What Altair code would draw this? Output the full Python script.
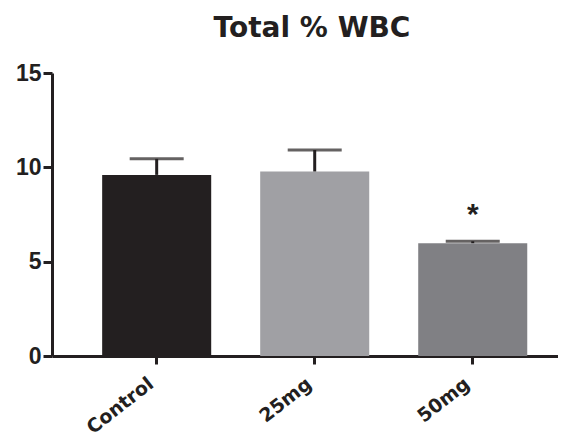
import altair as alt
import pandas as pd

groups = ["Control", "25mg", "50mg"]
means = [9.6, 9.78, 5.98]
sems = [0.85, 1.14, 0.1]
colors = ["#231f20", "#a0a0a4", "#808084"]
star_group = ["50mg"]
star_y = [7.45]

df = pd.DataFrame({"group": groups, "mean": means, "sem": sems})
df["upper"] = df["mean"] + df["sem"]
star_df = pd.DataFrame({"group": star_group, "y": star_y, "label": ["*"]})

FONT = "Liberation Sans"
WIDE = "DejaVu Sans"

x = alt.X("group:N", sort=groups, title=None,
          scale=alt.Scale(paddingInner=0.31, paddingOuter=0.256, align=0.62),
          axis=alt.Axis(labelAngle=322, labelFont=WIDE, labelFontSize=19,
                        labelFontWeight="bold", labelColor="#231f20",
                        domainColor="#231f20", domainWidth=3,
                        tickColor="#231f20", tickWidth=3, tickSize=8,
                        labelPadding=10, labelOffset=-11))

y_scale = alt.Scale(domain=[0, 15], nice=False)

bars = alt.Chart(df).mark_bar().encode(
    x=x,
    y=alt.Y("mean:Q", scale=y_scale, title=None,
            axis=alt.Axis(values=[0, 5, 10, 15], labelFont=FONT, labelFontSize=23,
                          labelFontWeight="bold", labelColor="#231f20",
                          domainColor="#231f20", domainWidth=3,
                          tickColor="#231f20", tickWidth=3, tickSize=9,
                          grid=False, labelPadding=2)),
    color=alt.Color("group:N", sort=groups,
                    scale=alt.Scale(domain=groups, range=colors), legend=None),
)

err = alt.Chart(df).mark_rule(color="#231f20", strokeWidth=3).encode(
    x=alt.X("group:N", sort=groups),
    y=alt.Y("mean:Q", scale=y_scale),
    y2="upper:Q",
)

caps = alt.Chart(df).mark_tick(color="#231f20", size=54, thickness=3).encode(
    x=alt.X("group:N", sort=groups),
    y=alt.Y("upper:Q", scale=y_scale),
)

star = alt.Chart(star_df).mark_text(font=FONT, fontSize=30, fontWeight="bold",
                                    color="#231f20", baseline="middle").encode(
    x=alt.X("group:N", sort=groups),
    y=alt.Y("y:Q", scale=y_scale),
    text="label:N",
)

chart = alt.layer(bars, err, caps, star).properties(
    width=506, height=283,
    title=alt.TitleParams("Total % WBC", font=WIDE, fontSize=28, fontWeight="bold",
                          color="#231f20", anchor="middle", dx=7, offset=19),
    autosize=alt.AutoSizeParams(type="none"),
    padding={"left": 44, "top": 65, "right": 0, "bottom": 83},
).configure_view(stroke=None).configure_axis(labelFlush=False)

chart.save("out.html", embed_options={"renderer": "svg", "actions": False})
